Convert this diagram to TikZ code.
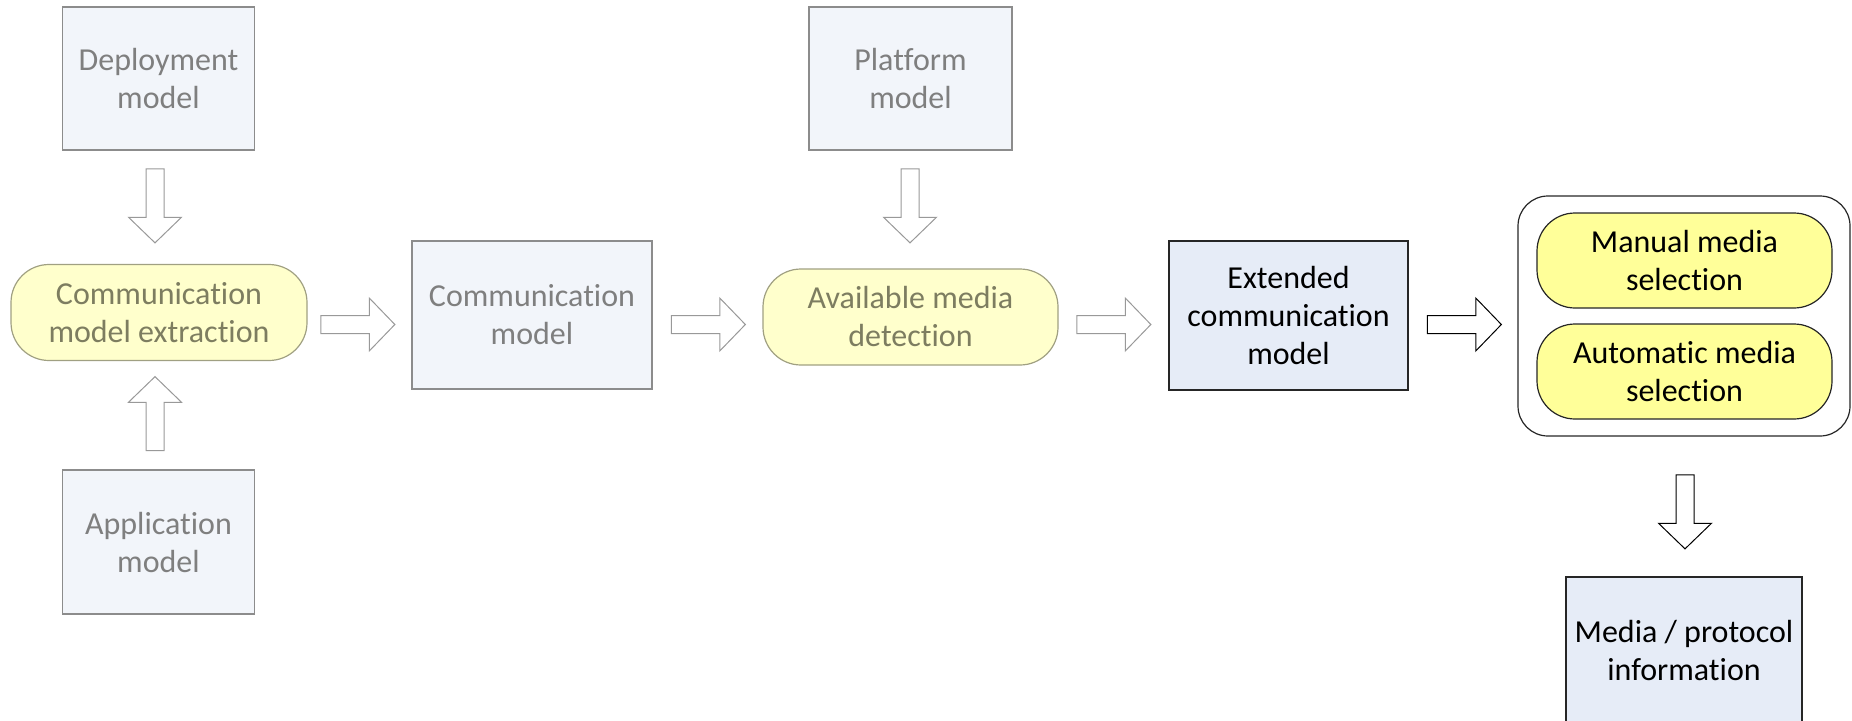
\documentclass[tikz,border=0pt]{standalone}
\usepackage{fontspec}
\setmainfont{Carlito}[Ligatures=NoCommon]
\usetikzlibrary{shapes.arrows}

\definecolor{boxgrey}{RGB}{242,245,250}
\definecolor{boxblue}{RGB}{230,236,247}
\definecolor{paleyellow}{RGB}{255,255,204}
\definecolor{brightyellow}{RGB}{255,255,153}
\definecolor{textgrey}{RGB}{127,127,127}
\definecolor{textolive}{RGB}{125,125,96}
\definecolor{lineolive}{RGB}{160,160,130}

\begin{document}
\begin{tikzpicture}[x=1pt,y=-1pt,
  every node/.style={font=\fontsize{32}{38}\selectfont, align=center, inner sep=0pt},
  model/.style={draw=black!45, line width=1.2pt, fill=boxgrey, text=textgrey},
  result/.style={draw=black!85, line width=1.2pt, fill=boxblue, text=black},
  step1/.style={draw=lineolive, line width=1.2pt, fill=paleyellow, text=textolive, rounded corners=38pt},
  choice/.style={draw=black!85, line width=1.2pt, fill=brightyellow, text=black, rounded corners=38pt},
  garrow/.style={single arrow, draw=black!40, line width=1pt, fill=white, inner sep=8.5pt, minimum height=74pt, minimum width=52pt, single arrow head extend=17.5pt, single arrow tip angle=92},
  barrow/.style={garrow, draw=black}]
\useasboundingbox (0,0) rectangle (1852,720);
\clip (0,0) rectangle (1852,720);
% input models
\node[model, minimum width=192pt, minimum height=143pt] at (158.5,78.5) (Deploy) {Deployment\\model};
\node[model, minimum width=192pt, minimum height=144pt] at (158.5,542) (Appl) {Application\\model};
\node[model, minimum width=203pt, minimum height=143pt] at (910.5,78.5) (Platf) {Platform\\model};
% processing steps
\node[step1, minimum width=296pt, minimum height=96pt] at (159,312.5) (Extract) {Communication\\model extraction};
\node[model, minimum width=240pt, minimum height=148pt] at (532,315) (CommMod) {Communication\\model};
\node[step1, minimum width=295pt, minimum height=96pt] at (910.5,317) (Detect) {Available media\\detection};
\node[result, minimum width=239pt, minimum height=149pt] at (1288.5,315.5) (ExtMod) {Extended\\communication\\model};
% media selection
\node[draw=black!85, line width=1.2pt, rounded corners=30pt, minimum width=332pt, minimum height=240pt] at (1684,316) (Select) {};
\node[choice, minimum width=295pt, minimum height=95pt] at (1684.5,260.5) (Manual) {Manual media\\selection};
\node[choice, minimum width=295pt, minimum height=95pt] at (1684.5,371.5) (Auto) {Automatic media\\selection};
\node[result, minimum width=236pt, minimum height=146pt] at (1684,650) (MediaInfo) {Media / protocol\\information};
% block arrows
\node[garrow, rotate=-90] at (155,201.5) (Arr1) {};
\node[garrow, rotate=90] at (155,418) (Arr2) {};
\node[garrow] at (353.5,324.5) (Arr3) {};
\node[garrow] at (704,324.5) (Arr4) {};
\node[garrow, rotate=-90] at (910,201.5) (Arr5) {};
\node[garrow] at (1109.5,324.5) (Arr6) {};
\node[barrow] at (1460,324.5) (Arr7) {};
\node[barrow, rotate=-90] at (1685,507.5) (Arr8) {};
\end{tikzpicture}
\end{document}
